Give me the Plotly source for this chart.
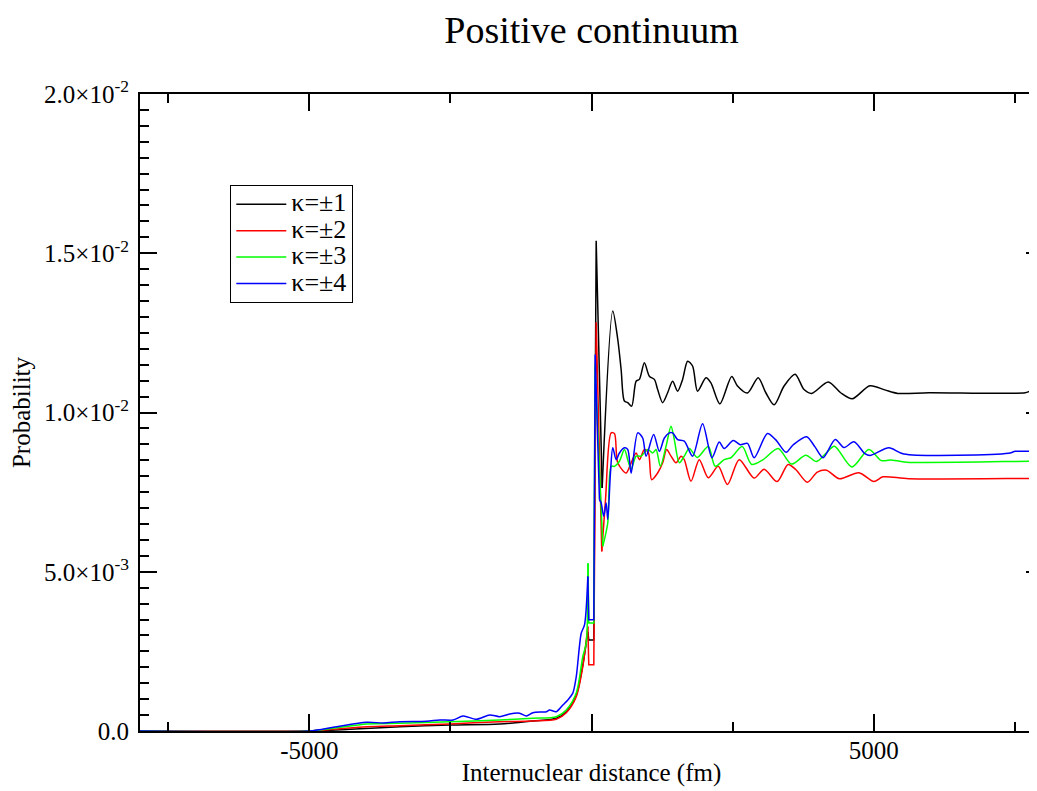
import plotly.graph_objects as go

# ---- data (x in fm, y = probability) ----
x_k1 = [-8000, -5000, -4280, -3395, -2511, -1627, -1038, -624, -447, -270, -154, -65, -48, 41, 83, 189, 377, 465, 525, 583,
        642, 712, 790, 849, 937, 1025, 1114, 1172, 1261, 1349, 1437, 1526, 1614, 1703, 1791, 1879, 2028, 2116, 2275, 2484,
        2587, 2763, 2953, 3089, 3235, 3412, 3607, 3766, 3902, 4195, 4415, 4620, 4933, 5198, 5428, 5976, 7685, 7779, 8000]
y_k1 = [0, 0, 5.3e-5, 1.35e-4, 1.89e-4, 2.2e-4, 3.14e-4, 4.0e-4, 6.07e-4, 1.13e-3, 2.08e-3, 3.11e-3, 2.86e-3, 2.86e-3, 0.01539,
        7.63e-3, 0.01319, 0.01230, 0.01135, 0.01036, 0.01031, 0.01020, 0.01098, 0.01104, 0.01156, 0.01114, 0.01104, 0.01072,
        0.01031, 0.01062, 0.01098, 0.01067, 0.01104, 0.01161, 0.01146, 0.01067, 0.01109, 0.01093, 0.01027, 0.01113, 0.01083,
        0.01061, 0.01109, 0.01062, 0.01024, 0.01083, 0.01120, 0.01072, 0.01060, 0.01096, 0.01062, 0.01043, 0.01084, 0.01071,
        0.01060, 0.01062, 0.01062, 0.01067, 0.01067]

x_k2 = [-8000, -5000, -3983, -3395, -2511, -1627, -1038, -624, -447, -270, -154, -65, -48, 41, 83, 182, 248, 348, 407, 465,
        614, 702, 790, 849, 937, 1008, 1066, 1172, 1261, 1331, 1409, 1497, 1586, 1644, 1763, 1909, 2069, 2245, 2410, 2617,
        2882, 3059, 3288, 3483, 3619, 3824, 4001, 4164, 4393, 4738, 5003, 5163, 5622, 7779, 8000]
y_k2 = [0, 0, 1.35e-4, 1.67e-4, 2.2e-4, 2.92e-4, 3.14e-4, 3.68e-4, 5.75e-4, 1.08e-3, 2.02e-3, 3.28e-3, 2.08e-3, 2.08e-3, 0.01283,
        5.64e-3, 7.26e-3, 9.36e-3, 9.34e-3, 8.42e-3, 8.10e-3, 8.42e-3, 8.73e-3, 8.52e-3, 8.84e-3, 8.74e-3, 7.89e-3, 8.10e-3,
        8.42e-3, 8.84e-3, 8.63e-3, 8.42e-3, 8.63e-3, 8.52e-3, 7.84e-3, 8.52e-3, 7.95e-3, 8.31e-3, 7.74e-3, 8.52e-3, 7.94e-3,
        8.22e-3, 7.83e-3, 8.37e-3, 8.21e-3, 7.81e-3, 8.13e-3, 8.19e-3, 7.92e-3, 8.11e-3, 7.83e-3, 7.98e-3, 7.92e-3, 7.93e-3,
        7.93e-3]

x_k3 = [-8000, -5000, -3983, -3395, -2511, -1627, -1038, -624, -447, -270, -154, -94, -62, -48, 41, 62, 200, 288, 348, 407,
        495, 583, 642, 702, 790, 879, 995, 1084, 1144, 1220, 1321, 1409, 1467, 1556, 1644, 1733, 1874, 2069, 2192, 2351,
        2470, 2670, 2838, 3041, 3306, 3545, 3796, 3987, 4150, 4305, 4614, 4915, 5136, 5295, 5587, 7779, 8000]
y_k3 = [0, 0, 2.2e-4, 2.42e-4, 2.92e-4, 3.46e-4, 3.99e-4, 4.5e-4, 6.6e-4, 1.19e-3, 2.34e-3, 2.76e-3, 5.27e-3, 3.39e-3, 3.39e-3,
        0.01151, 5.80e-3, 6.53e-3, 8.31e-3, 8.31e-3, 8.47e-3, 8.84e-3, 8.52e-3, 8.21e-3, 8.63e-3, 8.63e-3, 8.84e-3, 8.73e-3,
        8.84e-3, 8.31e-3, 8.94e-3, 9.57e-3, 9.15e-3, 8.42e-3, 8.63e-3, 8.87e-3, 8.59e-3, 8.93e-3, 8.31e-3, 8.52e-3, 8.58e-3,
        8.93e-3, 8.37e-3, 8.52e-3, 8.87e-3, 8.38e-3, 8.66e-3, 8.46e-3, 8.71e-3, 8.94e-3, 8.29e-3, 8.84e-3, 8.49e-3, 8.51e-3,
        8.44e-3, 8.47e-3, 8.47e-3]

x_k4 = [-8000, -5000, -4574, -3983, -3690, -3395, -2922, -2687, -2452, -2275, -2038, -1803, -1627, -1450, -1273, -1154, -1038,
        -801, -743, -624, -507, -419, -331, -270, -182, -124, -65, -48, 41, 65, 141, 171, 217, 260, 288, 336, 377, 437, 495,
        583, 642, 702, 819, 907, 967, 1101, 1202, 1291, 1379, 1437, 1526, 1644, 1791, 1968, 2134, 2263, 2351, 2511, 2634,
        2763, 2882, 3117, 3266, 3448, 3571, 3810, 3960, 4102, 4319, 4473, 4650, 4844, 4933, 5269, 5534, 7390, 7509, 7779, 8000]
y_k4 = [0, 0, 1.16e-4, 2.74e-4, 2.52e-4, 2.92e-4, 3.05e-4, 3.46e-4, 3.46e-4, 4.72e-4, 3.68e-4, 5.03e-4, 4.5e-4, 5.35e-4,
        5.57e-4, 4.72e-4, 5.75e-4, 6.07e-4, 6.6e-4, 6.07e-4, 8.18e-4, 9.75e-4, 1.19e-3, 1.71e-3, 3.07e-3, 3.33e-3, 4.85e-3,
        3.49e-3, 3.49e-3, 0.01182, 7.26e-3, 7.16e-3, 6.74e-3, 7.16e-3, 6.64e-3, 8.10e-3, 8.89e-3, 8.52e-3, 8.73e-3, 8.89e-3,
        8.84e-3, 8.10e-3, 9.36e-3, 9.20e-3, 8.63e-3, 9.31e-3, 8.78e-3, 9.20e-3, 9.36e-3, 9.36e-3, 9.15e-3, 9.10e-3, 8.63e-3,
        9.65e-3, 8.58e-3, 9.07e-3, 8.87e-3, 9.12e-3, 8.99e-3, 9.03e-3, 8.58e-3, 9.34e-3, 9.14e-3, 8.75e-3, 8.98e-3, 9.24e-3,
        8.92e-3, 8.58e-3, 9.15e-3, 8.90e-3, 9.08e-3, 8.71e-3, 8.65e-3, 8.89e-3, 8.70e-3, 8.72e-3, 8.78e-3, 8.78e-3, 8.78e-3]

series_names = ["κ=±1", "κ=±2", "κ=±3", "κ=±4"]
series_colors = ["#000000", "#ff0000", "#00ff00", "#0000ff"]
# x where the sharp (unsmoothed) step/spike region of each curve begins and ends
step_start = [-65, -65, -62, -65]
step_end = [189, 182, 200, 141]

x_tickvals = [-5000, 0, 5000]
x_ticktext = ["-5000", "", "5000"]
y_tickvals = [0, 0.005, 0.01, 0.015, 0.02]
y_ticktext = ["0.0", "5.0×10<sup>-3</sup>", "1.0×10<sup>-2</sup>", "1.5×10<sup>-2</sup>", "2.0×10<sup>-2</sup>"]

FONT = "Liberation Serif"

fig = go.Figure()
for xs, ys, name, col, a, b in zip([x_k1, x_k2, x_k3, x_k4], [y_k1, y_k2, y_k3, y_k4],
                                   series_names, series_colors, step_start, step_end):
    parts = [
        ([x for x in xs if x <= a], [y for x, y in zip(xs, ys) if x <= a], "spline"),
        ([x for x in xs if a <= x <= b], [y for x, y in zip(xs, ys) if a <= x <= b], "linear"),
        ([x for x in xs if x >= b], [y for x, y in zip(xs, ys) if x >= b], "spline"),
    ]
    for i, (px, py, shp) in enumerate(parts):
        fig.add_trace(go.Scatter(
            x=px, y=py, mode="lines",
            name='<span style="font-size:26px">' + name + '</span>',
            legendgroup=name, showlegend=(i == 0),
            line=dict(color=col, width=1.5, shape=shp, smoothing=0.8)))

fig.update_layout(
    width=1037, height=791,
    margin=dict(l=132, r=0, t=86, b=68),
    paper_bgcolor="white", plot_bgcolor="white",
    font=dict(family=FONT, color="black"),
    title=dict(text="Positive continuum", x=0.5, xref="paper", xanchor="center",
               y=0.973, yref="container", yanchor="middle",
               font=dict(family=FONT, size=38, color="black")),
    showlegend=True,
    legend=dict(x=0.1, y=0.857, xanchor="left", yanchor="top",
                bordercolor="black", borderwidth=1, bgcolor="white",
                font=dict(family=FONT, size=18, color="black"),
                itemwidth=50, tracegroupgap=0),
    xaxis=dict(range=[-8000, 8000], showgrid=False, zeroline=False,
               showline=True, linecolor="black", linewidth=2, mirror="allticks",
               ticks="inside", ticklen=17, tickwidth=1.5, tickcolor="black",
               tickmode="array", tickvals=x_tickvals, ticktext=x_ticktext,
               tickfont=dict(family=FONT, size=25, color="black"),
               ticklabelstandoff=-4,
               minor=dict(ticks="inside", ticklen=9, tickwidth=1.5, tickcolor="black",
                          tickmode="linear", tick0=0, dtick=2500, showgrid=False),
               title=dict(text="Internuclear distance (fm)", standoff=0,
                          font=dict(family=FONT, size=25, color="black"))),
    yaxis=dict(range=[0, 0.02], showgrid=False, zeroline=False,
               showline=True, linecolor="black", linewidth=2, mirror="allticks",
               ticks="inside", ticklen=17, tickwidth=1.5, tickcolor="black",
               tickmode="array", tickvals=y_tickvals, ticktext=y_ticktext,
               tickfont=dict(family=FONT, size=25, color="black"),
               ticklabelstandoff=4,
               minor=dict(ticks="inside", ticklen=9, tickwidth=1.5, tickcolor="black",
                          tickmode="linear", tick0=0, dtick=0.0005, showgrid=False),
               title=dict(text="Probability", standoff=8,
                          font=dict(family=FONT, size=25, color="black"))),
)

fig.write_html("out.html")
